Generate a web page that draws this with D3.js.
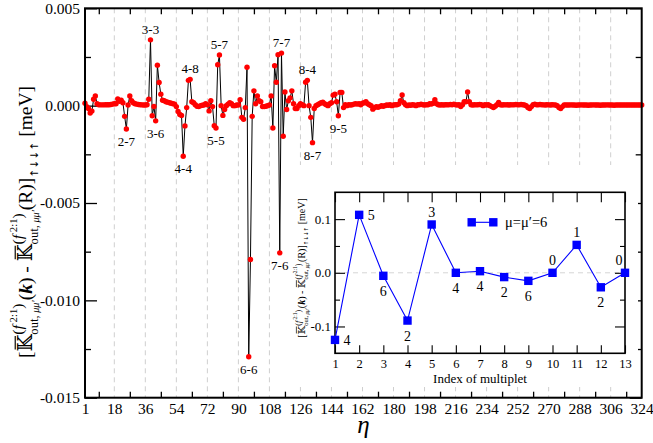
<!DOCTYPE html>
<html><head><meta charset="utf-8">
<script src="https://cdn.jsdelivr.net/npm/d3@7"></script>
<style>
body{margin:0;background:#fff;}
text{font-family:"Liberation Serif","DejaVu Serif",serif;}
</style></head>
<body><svg id="c" width="653" height="443"></svg>
<script>
// ---------------- data ----------------
const etaValues = [
 0.00012,-0.00005,-0.00015,-0.00038,-0.00028,0.00033,0.0005,0.0001,0.00005,0.00004,
 0.00004,0.00004,0.00005,0.00005,0.00005,0.00006,0.00008,0.0001,0.0001,0.00035,
 0.00022,0.00028,0.00015,-0.00055,-0.0012,0.00003,0.0005,0.00025,0.00015,0.0001,
 0.00008,0.00006,0.00005,0.00004,0.00003,0.00003,0.00005,0.00033,0.00338,-0.00052,
 -0.00004,-0.00078,0.00208,0.00119,0.00059,0.00028,0.00025,0.0002,0.00018,0.00015,
 0.00012,0.0001,0.00008,-0.00005,-0.0003,-0.00045,-0.0005,-0.0026,-0.00104,-0.0001,
 0.0013,0.00135,0.0002,0.00015,0.00005,-0.00003,-0.00005,0.0,0.00002,0.00003,
 0.0001,0.00005,-0.00027,0.00025,-0.00005,-0.00103,-0.00115,0.0021,0.0026,0.0,
 -0.0005,-0.0002,0.0,0.00008,0.00015,0.0001,0.0,0.0,0.00003,0.00003,
 0.0003,-0.0006,-0.0007,-0.0001,0.00197,-0.0129,-0.0079,-0.00055,0.00076,0.0001,
 0.0005,0.00025,0.0002,-0.00005,-0.00005,-0.00003,0.0,0.00003,0.0005,-0.00115,
 0.00205,0.0012,0.00262,-0.00756,0.0027,-0.00157,0.0007,-0.0002,0.00025,0.0004,
 0.00076,0.0001,-0.00015,-0.00015,0.0,0.0001,0.00005,0.0,0.0012,0.0013,
 0.0,-0.0006,-0.0019,-0.00015,0.0,0.00005,0.0001,0.00015,0.00018,0.0001,
 0.00005,0.0,0.0001,0.00015,0.00054,0.00059,0.0002,-0.00052,0.00068,0.00068,
 -0.0001,0.00005,0.0,0.00005,0.00003,0.00005,0.00008,0.0001,0.00008,0.0001,
 0.00005,0.00012,0.00015,0.0002,0.0001,0.00005,0.0,-0.00018,-0.0001,-0.00005,
 -0.00008,-0.00005,0.0,-0.00003,0.0,0.00003,0.00002,0.00005,0.0,0.00003,
 0.00005,0.00005,0.00008,0.00025,0.00055,0.00015,0.00005,0.0,0.00003,0.00002,
 0.00005,0.00003,0.0,0.00005,0.00005,0.00008,0.00005,0.00003,0.00005,0.00005,
 0.0001,0.00008,0.00012,0.0003,0.0001,0.00005,0.00003,0.00005,0.00003,0.00005,
 0.00005,0.00004,0.00006,0.00005,0.00008,0.00005,0.00003,0.00005,-0.00005,0.00005,
 0.0002,0.0002,0.0007,0.0002,0.00005,0.00003,0.00005,0.00004,0.00005,0.00006,
 0.00005,0.0,0.00005,0.00003,0.00005,0.0,-0.00005,-0.0001,-0.00003,0.00005,
 0.00016,0.00005,0.00003,0.00005,0.00004,0.00005,0.00003,0.00005,0.00004,0.00005,
 0.00006,0.00005,0.00004,0.00006,0.00005,0.00003,0.0,-0.0001,-0.00015,-0.00005,
 0.00005,0.00008,0.00005,0.00004,0.00006,0.00005,0.00004,0.00003,0.00005,0.00004,
 0.00003,0.00005,0.00004,0.00003,0.0,-0.0001,-0.00015,-0.00005,0.00004,0.00003,
 0.00003,0.00003,0.00004,0.00003,0.00003,0.00002,0.00003,0.00003,0.00004,0.00003,
 0.00003,0.00003,0.00002,0.00003,0.00003,0.00004,0.00003,0.00003,0.00003,0.00002,
 0.00003,0.00003,0.00003,0.00004,0.00003,0.00003,0.00003,0.00002,0.00003,0.00003,
 0.00003,0.00003,0.00003,0.00003,0.00003,0.00003,0.00003,0.00003,0.00003,0.00003,
 0.00003,0.00003,0.00003,0.00003
];
const xMajorTicks = [1,18,36,54,72,90,108,126,144,162,180,198,216,234,252,270,288,306,324];
const xMinorTicks = [9,27,45,63,81,99,117,135,153,171,189,207,225,243,261,279,297,315];
const yMajorTicks = [0.005,0,-0.005,-0.01,-0.015];
const yMinorTicks = [0.0025,-0.0025,-0.0075,-0.0125];
const peakLabels = [
 {t:"2-7",eta:25,pos:"below"},{t:"3-3",eta:39,pos:"above"},{t:"3-6",eta:42,pos:"below"},
 {t:"4-8",eta:62,pos:"above"},{t:"4-4",eta:58,pos:"below"},{t:"5-7",eta:79,pos:"above"},
 {t:"5-5",eta:77,pos:"below"},{t:"6-6",eta:96,pos:"below"},{t:"7-7",eta:115,pos:"above"},
 {t:"7-6",eta:114,pos:"below"},{t:"8-4",eta:130,pos:"above"},{t:"8-7",eta:133,pos:"below"},
 {t:"9-5",eta:148,pos:"below"}
];
// inset
const multipletIndex = [1,2,3,4,5,6,7,8,9,10,11,12,13];
const multipletValues = [-0.125,0.108,-0.0056,-0.089,0.09,0.0,0.003,-0.008,-0.015,0.0,0.052,-0.027,0.0];
const multipletLabels = ["4","5","6","2","3","4","4","2","6","0","1","2","0"];
const multipletLabelPos = ["right","right","below","below","above","below","below","below","below","above","above","below","above"];
const insetYTicks = [-0.1,0,0.1];
const insetYMinor = [-0.05,0.05];
const legendText = "μ=μ′=6";

// ---------------- chart ----------------
const SERIF = '"Liberation Serif","DejaVu Serif",serif';
const svg = d3.select("#c");
const L=85, R=641.7, T=8.3, B=397.7;
const x = d3.scaleLinear().domain([1,324]).range([L,R]);
const y = d3.scaleLinear().domain([-0.015,0.005]).range([B,T]);
const fmt = v => d3.format(".3f")(v).replace("−","-");

// gridlines
svg.append("g").selectAll("line").data(xMajorTicks.slice(1,-1)).join("line")
  .attr("x1",d=>x(d)).attr("x2",d=>x(d)).attr("y1",T).attr("y2",B)
  .attr("stroke","#cfcfcf").attr("stroke-width",1).attr("stroke-dasharray","5,4");

// axes
const TF = 15.5;
function styleAxis(g){ g.attr("font-family",SERIF).attr("font-size",null);
  g.select(".domain").remove(); g.selectAll("line").attr("stroke","#000").attr("stroke-width",1.3);
  g.selectAll("text").style("font-family",SERIF).style("font-size",TF+"px").attr("fill","#000"); }
svg.append("g").attr("transform",`translate(0,${B})`)
  .call(d3.axisBottom(x).tickValues(xMajorTicks).tickSize(0).tickPadding(5).tickFormat(d3.format("d"))).call(styleAxis);
svg.append("g").attr("transform",`translate(0,${B})`)
  .call(d3.axisBottom(x).tickValues(xMinorTicks).tickSize(-6).tickFormat("")).call(styleAxis);
svg.append("g").attr("transform",`translate(0,${T})`)
  .call(d3.axisTop(x).tickValues(xMinorTicks).tickSize(-6).tickFormat("")).call(styleAxis);
svg.append("g").attr("transform",`translate(${L},0)`)
  .call(d3.axisLeft(y).tickValues(yMajorTicks).tickSize(-12).tickPadding(5).tickFormat(fmt)).call(styleAxis);
svg.append("g").attr("transform",`translate(${L},0)`)
  .call(d3.axisLeft(y).tickValues(yMinorTicks).tickSize(-6).tickFormat("")).call(styleAxis);
svg.append("g").attr("transform",`translate(${R},0)`)
  .call(d3.axisRight(y).tickValues(yMajorTicks).tickSize(-12).tickFormat("")).call(styleAxis);
svg.append("g").attr("transform",`translate(${R},0)`)
  .call(d3.axisRight(y).tickValues(yMinorTicks).tickSize(-6).tickFormat("")).call(styleAxis);

// data
const pts = etaValues.map((v,i)=>({eta:i+1,v}));
svg.append("path").datum(pts)
  .attr("d",d3.line().x(d=>x(d.eta)).y(d=>y(d.v)))
  .attr("fill","none").attr("stroke","#000").attr("stroke-width",1);
svg.append("g").selectAll("circle").data(pts).join("circle")
  .attr("cx",d=>x(d.eta)).attr("cy",d=>y(d.v)).attr("r",2.7).attr("fill","#ff0000");

// peak labels
svg.append("g").selectAll("text").data(peakLabels).join("text")
  .attr("x",d=>x(d.eta)).attr("y",d=>y(etaValues[d.eta-1]) + (d.pos==="above"?-6:17))
  .attr("text-anchor","middle").style("font-family",SERIF).style("font-size","13px").text(d=>d.t);

// frame
svg.append("rect").attr("x",L).attr("y",T).attr("width",R-L).attr("height",B-T)
  .attr("fill","none").attr("stroke","#000").attr("stroke-width",2);

// eta label
svg.append("text").attr("x",(L+R)/2).attr("y",433).attr("text-anchor","middle")
  .style("font-family",SERIF).style("font-size","25px").attr("font-style","italic").text("η");

// ---------- math label helper ----------
function drawRun(g, run, x0, F){
  let cx=x0;
  for(const p of run){
    if(p.stack){
      let mw=0;
      for(const r of p.stack){ const e=drawRun(g,r,cx,F); mw=Math.max(mw,e-cx); }
      cx+=mw;
    } else {
      const t=g.append("text").attr("x",cx).attr("y",(p.dy||0)*F)
        .style("font-size",((p.s||1)*F)+"px").attr("font-style",p.fs||"normal").attr("font-weight",p.fw||"normal")
        .attr("xml:space","preserve").style("white-space","pre").text(p.t);
      t.style("font-family", p.fam || SERIF);
      const w=t.node().getComputedTextLength();
      if(p.over){ g.append("line").attr("x1",cx+0.12*w).attr("x2",cx+0.92*w)
        .attr("y1",-0.86*F).attr("y2",-0.86*F).attr("stroke","#000").attr("stroke-width",Math.max(0.7,F*0.06)); }
      cx+=w;
    }
  }
  return cx;
}
const supsub = [
  [{t:"(",s:0.8,dy:-0.45},{t:"f",s:0.8,dy:-0.45,fs:"italic"},{t:" 2:1",s:0.55,dy:-0.78},{t:")",s:0.8,dy:-0.45}],
  [{t:"out,",s:0.65,dy:0.3},{t:" μμ′",s:0.52,dy:0.36,fs:"italic"}]
];
const labelPieces = [
  {t:"["},{t:"𝕂",over:true},{stack:supsub},{t:"("},{t:"k",fs:"italic",fw:"bold"},{t:")"},
  {t:" - "},{t:"𝕂",over:true},{stack:supsub},{t:"(R)"},{t:"]"},
  {t:"↑↓↓↑",s:0.55,dy:0.3,fam:"DejaVu Sans"},{t:" [meV]",dy:0.0}
];
function mathLabel(parent, cx, cy, F){
  const g=parent.append("g");
  const inner=g.append("g");
  const W=drawRun(inner,labelPieces,0,F);
  inner.attr("transform",`translate(${-W/2},0)`);
  g.attr("transform",`translate(${cx},${cy}) rotate(-90)`);
  return W;
}
mathLabel(svg, 32, 222, 19.5);

// ---------------- inset ----------------
const iL=335, iR=625, iT=192.3, iB=353.3;
const xi = d3.scaleLinear().domain([1,13]).range([iL,iR]);
const yi = d3.scaleLinear().domain([-0.15,0.15]).range([iB,iT]);
svg.append("rect").attr("x",292).attr("y",165).attr("width",346).attr("height",222).attr("fill","#fff");
svg.append("line").attr("x1",iL).attr("x2",iR).attr("y1",yi(0)).attr("y2",yi(0))
  .attr("stroke","#d5d5d5").attr("stroke-dasharray","5,4");
function styleI(g,fs){ g.attr("font-family",SERIF).attr("font-size",null);
  g.select(".domain").remove(); g.selectAll("line").attr("stroke","#000").attr("stroke-width",1.1);
  g.selectAll("text").style("font-family",SERIF).style("font-size",fs+"px").attr("fill","#000"); }
svg.append("g").attr("transform",`translate(0,${iB})`)
  .call(d3.axisBottom(xi).tickValues(multipletIndex).tickSize(-8).tickPadding(6).tickFormat(d3.format("d"))).call(g=>styleI(g,12.5));
svg.append("g").attr("transform",`translate(0,${iT})`)
  .call(d3.axisTop(xi).tickValues(multipletIndex).tickSize(-10).tickFormat("")).call(g=>styleI(g,12.5));
svg.append("g").attr("transform",`translate(${iL},0)`)
  .call(d3.axisLeft(yi).tickValues(insetYTicks).tickSize(-10).tickPadding(4).tickFormat(v=>d3.format(".1f")(v).replace("−","-"))).call(g=>styleI(g,13));
svg.append("g").attr("transform",`translate(${iL},0)`)
  .call(d3.axisLeft(yi).tickValues(insetYMinor).tickSize(-5).tickFormat("")).call(g=>styleI(g,13));
svg.append("g").attr("transform",`translate(${iR},0)`)
  .call(d3.axisRight(yi).tickValues(insetYTicks).tickSize(-10).tickFormat("")).call(g=>styleI(g,13));
svg.append("g").attr("transform",`translate(${iR},0)`)
  .call(d3.axisRight(yi).tickValues(insetYMinor).tickSize(-5).tickFormat("")).call(g=>styleI(g,13));
svg.append("rect").attr("x",iL).attr("y",iT).attr("width",iR-iL).attr("height",iB-iT)
  .attr("fill","none").attr("stroke","#000").attr("stroke-width",1.6);

const ipts = multipletIndex.map((k,i)=>({k,v:multipletValues[i],lab:multipletLabels[i],pos:multipletLabelPos[i]}));
svg.append("path").datum(ipts).attr("d",d3.line().x(d=>xi(d.k)).y(d=>yi(d.v)))
  .attr("fill","none").attr("stroke","#0000ff").attr("stroke-width",1.1);
svg.append("g").selectAll("rect").data(ipts).join("rect")
  .attr("x",d=>xi(d.k)-4.2).attr("y",d=>yi(d.v)-4.2).attr("width",8.4).attr("height",8.4).attr("fill","#0000ff");
svg.append("g").selectAll("text").data(ipts).join("text")
  .attr("x",d=>xi(d.k)+(d.pos==="right"?12:(d.k===13?-6:0)))
  .attr("y",d=>yi(d.v)+(d.pos==="right"?5:d.pos==="below"?20:-8))
  .attr("text-anchor","middle")
  .style("font-family",SERIF).style("font-size","14px").text(d=>d.lab);

// legend
svg.append("line").attr("x1",471.7).attr("x2",493.3).attr("y1",222.3).attr("y2",222.3).attr("stroke","#0000ff").attr("stroke-width",1.1);
[471.7,493.3].forEach(px=>svg.append("rect").attr("x",px-4.2).attr("y",218.1).attr("width",8.4).attr("height",8.4).attr("fill","#0000ff"));
svg.append("text").attr("x",505).attr("y",227).style("font-family",SERIF).style("font-size","14.5px").text(legendText);

// inset axis title
svg.append("text").attr("x",(iL+iR)/2).attr("y",383).attr("text-anchor","middle")
  .style("font-family",SERIF).style("font-size","13px").text("Index of multiplet");
mathLabel(svg, 305, 268, 10);
</script></body></html>
